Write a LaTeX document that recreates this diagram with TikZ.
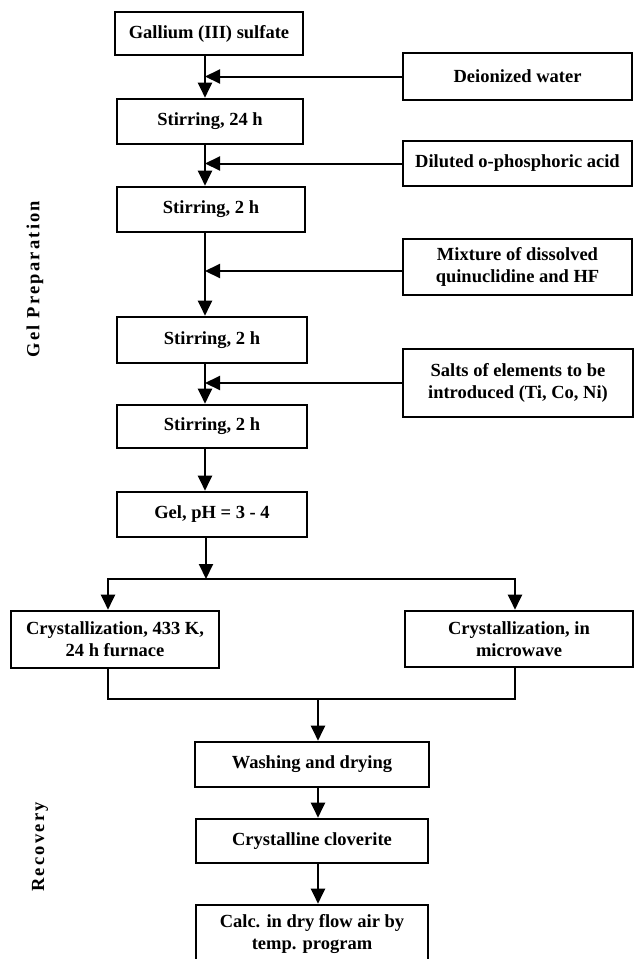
\documentclass[tikz,border=0pt]{standalone}
\usepackage{fontspec}
\setmainfont{Liberation Serif}
\usetikzlibrary{arrows.meta}

\tikzset{
  box/.style={draw, line width=2.6pt, align=center, inner sep=2pt, font=\bfseries\fontsize{18.5}{22}\selectfont},
  flow/.style={line width=2pt, -{Triangle[length=15pt,width=14pt]}},
  wire/.style={line width=2pt},
  side/.style={rotate=90, font=\bfseries\fontsize{18.5}{22}\selectfont\addfontfeature{LetterSpace=12}}
}

\begin{document}
\begin{tikzpicture}[x=1pt,y=-1pt]
\useasboundingbox (0,0) rectangle (635,959);
\node[box, minimum width=188pt, minimum height=43pt] (gal) at (209,33.5) {Gallium (III) sulfate};
\node[box, minimum width=186pt, minimum height=45pt] (st1) at (210,121.5) {Stirring, 24 h};
\node[box, minimum width=188pt, minimum height=45pt] (st2) at (211,209.5) {Stirring, 2 h};
\node[box, minimum width=190pt, minimum height=46pt] (st3) at (212,340) {Stirring, 2 h};
\node[box, minimum width=190pt, minimum height=43pt] (st4) at (212,426.5) {Stirring, 2 h};
\node[box, minimum width=190pt, minimum height=45pt] (gel) at (212,514.5) {Gel, pH = 3 - 4};
\node[box, minimum width=229pt, minimum height=47pt] (water) at (517.5,76.5) {Deionized water};
\node[box, minimum width=229pt, minimum height=45pt] (acid) at (517.5,163.5) {Diluted o-phosphoric acid};
\node[box, minimum width=229pt, minimum height=56pt] (mix) at (517.5,267) {Mixture of dissolved\\quinuclidine and HF};
\node[box, minimum width=230pt, minimum height=68pt] (salts) at (518,383) {Salts of elements to be\\introduced (Ti, Co, Ni)};
\node[box, minimum width=208pt, minimum height=57pt] (furnace) at (115,639.5) {Crystallization, 433 K,\\24 h furnace};
\node[box, minimum width=228pt, minimum height=56pt] (micro) at (519,639) {Crystallization, in\\microwave};
\node[box, minimum width=234pt, minimum height=45pt] (wash) at (312,764.5) {Washing and drying};
\node[box, minimum width=232pt, minimum height=44pt] (clov) at (312,841) {Crystalline cloverite};
\node[box, minimum width=232pt, minimum height=58pt] (calc) at (312,934) {Calc. in dry flow air by\\temp. program};
\node[side] (gelprep) at (35,279) {Gel Preparation};
\node[side] (recov) at (40,847) {Recovery};

\coordinate (spine) at (205,0);
\coordinate (split) at (206,579);
\coordinate (join) at (318,699);

\draw[flow] (gal.south -| spine) -- (st1.north -| spine);
\draw[flow] (st1.south -| spine) -- (st2.north -| spine);
\draw[flow] (st2.south -| spine) -- (st3.north -| spine);
\draw[flow] (st3.south -| spine) -- (st4.north -| spine);
\draw[flow] (st4.south -| spine) -- (gel.north -| spine);
\draw[flow] (water.west) -- (water.west -| spine);
\draw[flow] (acid.west) -- (acid.west -| spine);
\draw[flow] ([yshift=-4pt]mix.west) -- ([yshift=-4pt]mix.west -| spine);
\draw[flow] (salts.west) -- (salts.west -| spine);

\draw[flow] (gel.south -| split) -- (split);
\draw[flow] (split) -| ([xshift=-7pt]furnace.north);
\draw[flow] (split) -| ([xshift=-4pt]micro.north);
\draw[wire] ([xshift=-7pt]furnace.south) |- (join) -| ([xshift=-4pt]micro.south);
\draw[flow] (join) -- (join |- wash.north);
\draw[flow] (wash.south -| join) -- (clov.north -| join);
\draw[flow] (clov.south -| join) -- (calc.north -| join);
\end{tikzpicture}
\end{document}
